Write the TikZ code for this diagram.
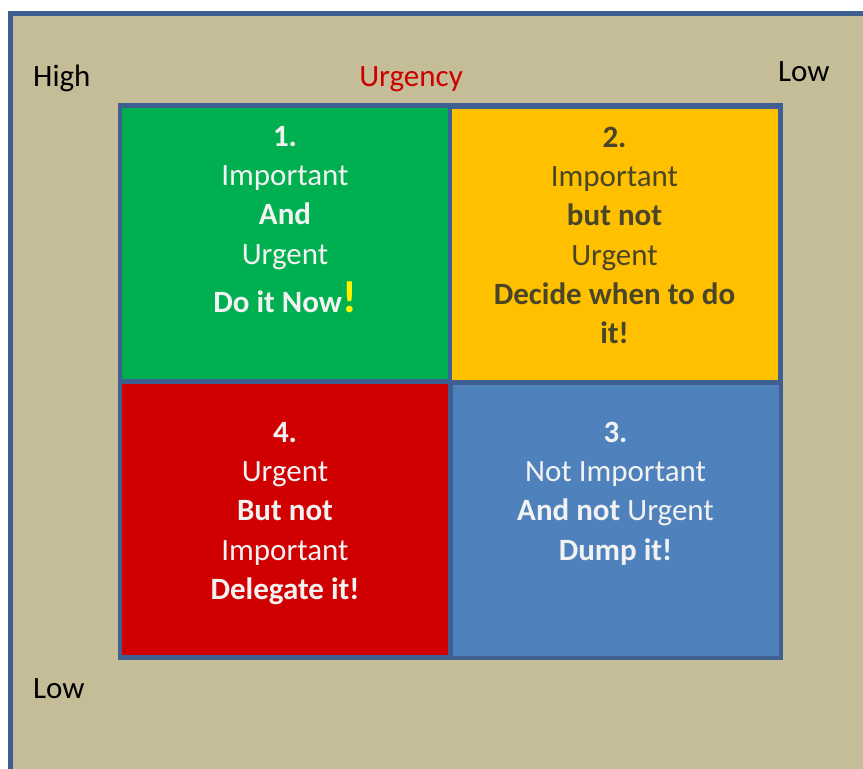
\documentclass[tikz,border=0pt]{standalone}
\usepackage{fontspec}
\setmainfont{Carlito}

\definecolor{sand}{HTML}{C4BD97}
\definecolor{frameblue}{HTML}{3E5F8F}
\definecolor{qgreen}{HTML}{00B050}
\definecolor{qyellow}{HTML}{FFC000}
\definecolor{qred}{HTML}{D00000}
\definecolor{qblue}{HTML}{4F81BD}
\definecolor{darktext}{HTML}{494529}
\definecolor{lighttext}{HTML}{F2F2F2}
\definecolor{urgred}{HTML}{CC0000}

\tikzstyle{cell}=[rectangle,inner sep=0pt,minimum width=326pt,minimum height=271pt]
\tikzstyle{celltext}=[align=center,inner sep=0pt,anchor=north,font=\fontsize{31}{39.3}\selectfont]
\tikzstyle{axislabel}=[inner sep=0pt,anchor=base west,font=\fontsize{31}{37}\selectfont]
\newcommand{\bigbang}{{\fontsize{45}{45}\selectfont\bfseries\color{yellow}!}}

\begin{document}
\begin{tikzpicture}[x=1pt,y=-1pt]
    \useasboundingbox (0,0) rectangle (863,769);
    \clip (0,0) rectangle (863,769);
    % background sheet, running off the right and bottom
    \draw[fill=sand,draw=frameblue,line width=5pt] (10.5,13.5) rectangle (890,800);
    % axis labels
    \node[axislabel] (high) at (33,86) {High};
    \node[axislabel] (lowright) at (778,81) {Low};
    \node[axislabel] (lowleft) at (33,698) {Low};
    \node[axislabel,anchor=base,text=urgred] (urgency) at (411,86) {Urgency};
    % the grid frame and its four quadrants
    \fill[frameblue] (118,103) rectangle (783,660);
    \foreach \pos/\name/\col in {{(285,243.5)/q1/qgreen}, {(614.5,244)/q2/qyellow},
                                 {(285,519)/q4/qred}, {(615.5,520)/q3/qblue}}
        \node[cell,fill=\col] (\name) at \pos {};
    % quadrant texts
    \node[celltext,text=lighttext] (t1) at ([yshift=-18pt]q1.north)
        {\textbf{1.}\\ Important\\ \textbf{And}\\ Urgent\\[8.7pt] \textbf{Do it Now}\bigbang};
    \node[celltext,text=darktext] (t2) at ([yshift=-18.5pt]q2.north)
        {\textbf{2.}\\ Important\\ \textbf{but not}\\ Urgent\\ \textbf{Decide when to do}\\ \textbf{it!}};
    \node[celltext,text=lighttext] (t4) at ([yshift=-38.5pt]q4.north)
        {\textbf{4.}\\ Urgent\\ \textbf{But not}\\ Important\\ \textbf{Delegate it!}};
    \node[celltext,text=lighttext] (t3) at ([yshift=-37.5pt]q3.north)
        {\textbf{3.}\\ Not Important\\ \textbf{And not} Urgent\\ \textbf{Dump it!}};
\end{tikzpicture}
\end{document}
